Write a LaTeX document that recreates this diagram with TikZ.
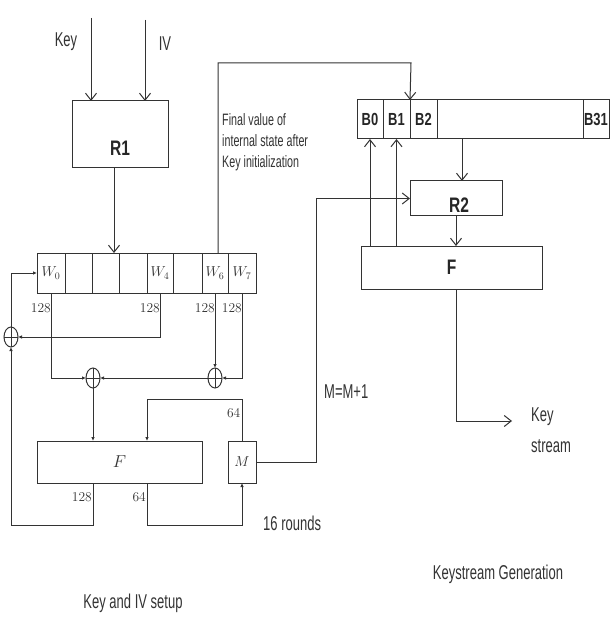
\documentclass[tikz,border=0pt]{standalone}
\usepackage{fontspec}
\newfontfamily\nsans[FakeStretch=0.65]{Liberation Sans}
\newfontfamily\nsansb[FakeStretch=0.74]{Liberation Sans Bold}
\usetikzlibrary{arrows.meta,shapes.geometric}
\begin{document}
\begin{tikzpicture}[x=1pt,y=-1pt,
 ln/.style={draw=black!80, line width=1pt},
 varr/.style={ln, -{Straight Barb[length=7pt,width=11pt]}},
 larr/.style={ln, -{Latex[length=4pt,width=3.5pt]}},
 box/.style={ln, rectangle, inner sep=0pt, outer sep=0pt},
 lbl/.style={font=\nsans\fontsize{20}{23}\selectfont, text=black!80, inner sep=0pt},
 slbl/.style={font=\nsans\fontsize{16.5}{21}\selectfont, text=black!80, inner sep=0pt},
 blbl/.style={font=\nsansb\fontsize{21}{23}\selectfont, text=black!85},
 bsm/.style={font=\nsansb\fontsize{17.5}{20}\selectfont, text=black!85},
 cmlbl/.style={font=\fontsize{13.5}{15}\selectfont, text=black!80, inner sep=0pt},
 cmtxt/.style={font=\fontsize{14.5}{16}\selectfont, text=black!80},
 xor/.style={ln, ellipse, minimum width=14pt, minimum height=20pt, inner sep=0pt, outer sep=0pt,
   path picture={\draw[black!80, line width=1pt] (path picture bounding box.north) -- (path picture bounding box.south) (path picture bounding box.west) -- (path picture bounding box.east);}},
]
\useasboundingbox (0,0) rectangle (610,617);
\fill[white] (0,0) rectangle (610,617);

% ---------- Key and IV setup ----------
\node[box, minimum width=96pt, minimum height=67pt] (R1) at (120,134.5) {};
\node[blbl] (R1t) at (120,148) {R1};
\coordinate (keyS) at (91,18);
\coordinate (ivS) at (145,20);
\node[lbl] (keyL) at (66,42) {Key};
\node[lbl] (ivL) at (165,44) {IV};
\draw[varr] (keyS) -- (keyS |- R1.north);
\draw[varr] (ivS) -- (ivS |- R1.north);

\node[box, cmtxt, minimum width=28pt, minimum height=40pt] (W0) at (51,273) {$W_0$};
\node[box, minimum width=27pt, minimum height=40pt] (W1) at (78.5,273) {};
\node[box, minimum width=27pt, minimum height=40pt] (W2) at (105.5,273) {};
\node[box, minimum width=28pt, minimum height=40pt] (W3) at (133,273) {};
\node[box, cmtxt, minimum width=26pt, minimum height=40pt] (W4) at (160,273) {$W_4$};
\node[box, minimum width=29pt, minimum height=40pt] (W5) at (187.5,273) {};
\node[box, cmtxt, minimum width=26pt, minimum height=40pt] (W6) at (215,273) {$W_6$};
\node[box, cmtxt, minimum width=28pt, minimum height=40pt] (W7) at (242,273) {$W_7$};

\draw[varr] ([xshift=-6pt]R1.south) -- ([xshift=-6pt]R1.south |- W3.north);

\node[xor] (xorL) at (11,337) {};
\node[xor] (xor1) at (93,378) {};
\node[xor] (xor2) at (215,378) {};

\node[box, cmtxt, font=\fontsize{17}{19}\selectfont, minimum width=165pt, minimum height=42pt] (F1) at (119.5,462) {$F$};
\node[box, cmtxt, minimum width=28pt, minimum height=42pt] (M) at (242,462) {$M$};

\coordinate (bot) at (0,525);
\coordinate (mtop) at (147,399);

\draw[larr] (W0.south) |- (xor1.west);
\draw[larr] (W4.south) |- (xorL.east);
\draw[larr] (W6.south) -- (xor2.north);
\draw[larr] (W7.south) |- (xor2.east);
\draw[larr] (xor2.west) -- (xor1.east);
\draw[larr] (xor1.south) -- (xor1 |- F1.north);
\draw[larr] (xor1 |- F1.south) -- (xor1 |- bot) -| (xorL.south);
\draw[larr] (xorL.north) |- (W0.west);
\draw[larr] (M.north) |- (mtop) -- (mtop |- F1.north);
\draw[larr] (mtop |- F1.south) -- (mtop |- bot) -| (M.south);

\node[cmlbl, anchor=east] (l128a) at ([yshift=-15pt]W0.south) {128};
\node[cmlbl, anchor=east] (l128b) at ([yshift=-15pt]W4.south) {128};
\node[cmlbl, anchor=east] (l128c) at ([yshift=-15pt]W6.south) {128};
\node[cmlbl, anchor=east] (l128d) at ([yshift=-15pt]W7.south) {128};
\node[cmlbl, anchor=east] (l64a) at (240.5,413) {64};
\node[cmlbl, anchor=east] (l128e) at (92,497) {128};
\node[cmlbl, anchor=east] (l64b) at (146,497) {64};

\node[lbl, anchor=west] (rounds) at (263,523) {16 rounds};
\node[lbl] (kivL) at (133,603) {Key and IV setup};

% ---------- Keystream generation ----------
\node[box, bsm, minimum width=26pt, minimum height=39pt] (B0) at (370,119.5) {B0};
\node[box, bsm, minimum width=27pt, minimum height=39pt] (B1) at (396.5,119.5) {B1};
\node[box, bsm, minimum width=27pt, minimum height=39pt] (B2) at (423.5,119.5) {B2};
\node[box, minimum width=146pt, minimum height=39pt] (Bm) at (510,119.5) {};
\node[box, bsm, minimum width=26pt, minimum height=39pt] (B31) at (596,119.5) {B31};

\node[box, minimum width=92pt, minimum height=35pt] (R2) at (456,198.5) {};
\node[blbl] (R2t) at (459,205) {R2};
\node[box, blbl, minimum width=181pt, minimum height=43pt] (F2) at (451.5,267.5) {F};

\coordinate (fvTop) at (411,63);
\draw[varr] ([xshift=3pt]W6.north) |- (fvTop) -- (B1.north east);
\node[slbl, anchor=north west, align=left] (fvL) at (222,113) {Final value of\\internal state after\\Key initialization};

\draw[varr] ([xshift=6pt]R2.north |- Bm.south) -- ([xshift=6pt]R2.north);
\draw[varr] (R2.south) -- (R2.south |- F2.north);
\draw[varr] (B0.south |- F2.north) -- (B0.south);
\draw[varr] (B1.south |- F2.north) -- (B1.south);

\coordinate (mUp) at (316,0);
\draw[varr] (M.east) -| (mUp |- R2.west) -- (R2.west);
\node[lbl, anchor=west] (mincL) at (324,392) {M=M+1};

\coordinate (ksEnd) at (512,421);
\draw[varr] ([xshift=4.5pt]F2.south) |- (ksEnd);
\node[lbl, anchor=west, align=left, font=\nsans\fontsize{20}{31}\selectfont] (ksL) at (531,430) {Key\\stream};

\node[lbl] (ksgL) at (498,574) {Keystream Generation};
\end{tikzpicture}
\end{document}
